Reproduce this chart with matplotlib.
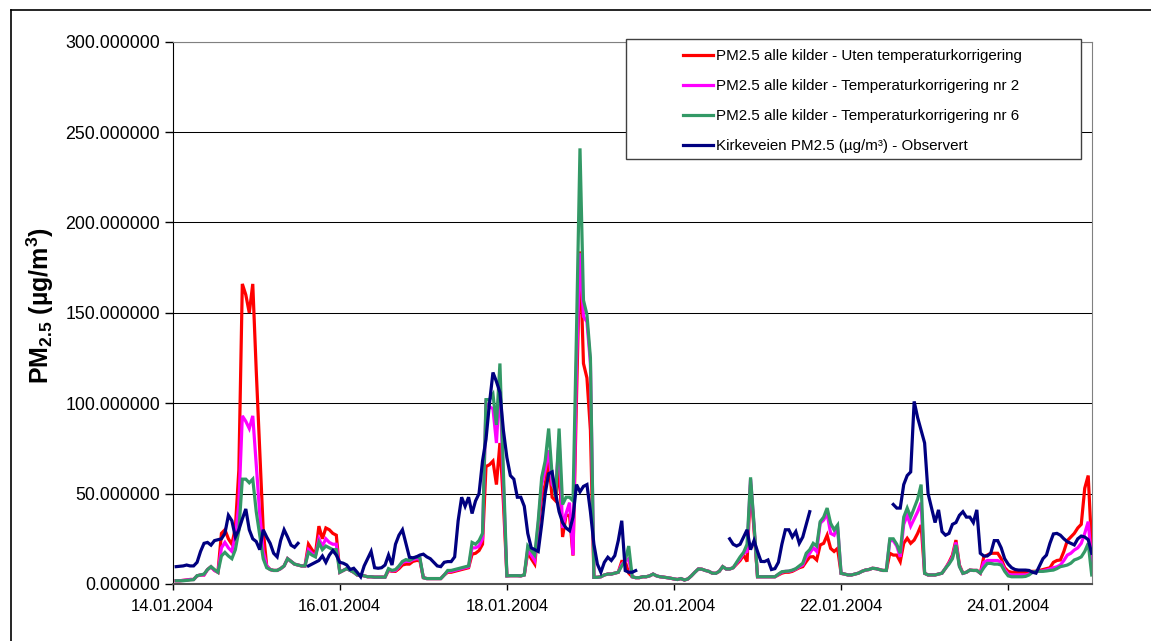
import numpy as np
import pandas as pd
import matplotlib
matplotlib.use("Agg")
import matplotlib.pyplot as plt
import matplotlib.dates as mdates
from matplotlib.patches import Rectangle
from matplotlib.lines import Line2D

nan = np.nan

# hourly values, 14.01.2004 01:00 .. 25.01.2004 00:00 (24 values per row = one day)
red = [
    1.8, 1.8, 2.0, 2.2, 2.5, 2.5, 4.5, 5.0, 5.0, 8.0, 9.5, 7.5, 6.5, 28, 30, 25, 22, 31, 63, 166, 160, 150, 166, 118,
    74, 30, 10, 8, 7.5, 7.5, 8.5, 10, 14, 12.5, 11, 10.5, 10, 10, 22, 19, 16.5, 32, 25, 31, 30, 28, 27, 6.5,
    7.5, 8.5, 7.5, 6.5, 5, 5, 4.5, 4, 4, 3.8, 3.8, 3.8, 3.8, 7.5, 7, 7, 8.5, 10.5, 11, 11, 12.5, 13, 13, 3.5,
    3, 3, 3, 3, 3, 5, 6.5, 6.5, 7, 7.5, 8, 8.5, 9, 16.5, 17, 18.5, 22, 65, 66, 68, 55, 78, 45, 4.5,
    4.6, 4.6, 4.6, 4.5, 5, 17.5, 14, 11, 30, 48, 55, 68, 48, 46, 66, 26, 38, 38, 15.7, 103, 184, 122, 114, 85,
    3.7, 3.7, 4, 5, 5.5, 5.5, 6, 6.5, 12.5, 12.5, 6, 4, 3.5, 3.5, 4, 4, 4.5, 5.5, 4.5, 4, 3.8, 3.5, 3.2, 2.8,
    2.5, 3, 2.2, 2.8, 4.5, 6.5, 8.3, 8.2, 7.5, 7, 6, 5.9, 7, 9.6, 8.3, 8.3, 9, 11, 13, 16, 12.4, 55, 30, 4,
    4, 4, 4, 4, 4, 5, 6, 6.5, 6.5, 7, 8, 9, 9.6, 12.4, 15, 15.1, 13.3, 21.6, 22.5, 27, 19.7, 18, 19.7, 5.9,
    5.5, 5, 5, 5.5, 6, 7, 7.7, 8, 8.7, 8.5, 8, 7.5, 7.5, 17, 16, 16, 12.4, 22.5, 25.3, 22.5, 24.3, 28, 32.6, 5.9,
    5, 5, 5, 5.5, 6, 8.7, 12, 16, 24.3, 10.5, 6, 6.5, 7.7, 7.5, 7.5, 6, 15, 16, 17, 17, 17, 14, 9, 7,
    6.5, 6.5, 6.5, 6.5, 6.5, 6.8, 7, 7, 7.5, 8, 8.5, 9, 12, 13, 13.3, 18, 24, 26, 28, 31, 33, 53, 60, 20,
]

magenta = [
    1.8, 1.8, 2.0, 2.2, 2.5, 2.5, 4.5, 5.0, 5.0, 8.0, 9.5, 7.5, 6.5, 20, 23, 20, 18, 27, 44, 93, 90, 86, 93, 66,
    39, 18, 10, 8, 7.5, 7.5, 8.5, 10, 14, 12.5, 11, 10.5, 10, 10, 19, 17, 15.5, 25, 21, 25, 23, 22, 22, 6.5,
    7.5, 8.5, 7.5, 6.5, 5, 5, 4.5, 4, 4, 3.8, 3.8, 3.8, 3.8, 8, 7.2, 7.5, 9.5, 12, 12.5, 12.5, 13.5, 14, 14, 3.5,
    3, 3, 3, 3, 3, 5, 7, 7, 7.5, 8, 8.5, 9, 9.5, 20, 20, 21, 25, 100, 98, 97, 78, 112, 55, 4.5,
    4.6, 4.6, 4.6, 4.5, 5, 19, 16, 13, 33, 55, 63, 74, 55, 52, 80, 31, 39, 45, 16, 122, 183, 148, 145, 122,
    3.7, 3.7, 4, 5, 5.5, 5.5, 6, 6.5, 11, 12.5, 14, 4, 3.5, 3.5, 4, 4, 4.5, 5.5, 4.5, 4, 3.8, 3.5, 3.2, 2.8,
    2.5, 3, 2.2, 2.8, 4.5, 6.5, 8.3, 8.2, 7.5, 7, 6, 5.9, 7, 9.6, 8.3, 8.3, 9, 11.5, 14, 17, 18, 58, 32, 4,
    4, 4, 4, 4, 4, 5.3, 6.5, 7, 7, 7.5, 8.3, 9.5, 10.5, 15, 17, 20, 18, 33.6, 35.4, 39, 28, 27, 31.7, 5.9,
    5.5, 5, 5, 5.5, 6, 7, 7.7, 8, 8.7, 8.5, 8, 7.5, 7.5, 24, 24, 21, 15, 33, 38, 32, 36, 40, 45, 5.9,
    5, 5, 5, 5.5, 6, 8.7, 11.5, 15, 23, 10, 5.9, 6.5, 7.7, 7.5, 7.5, 6, 12, 13, 13, 13, 13, 12, 8, 5.5,
    5, 5, 5, 5, 5, 5.5, 6.5, 7, 7, 7.3, 7.8, 8.3, 9, 9.5, 10.5, 13, 16, 17, 18.8, 20, 22.5, 28, 34.5, 12,
]

green = [
    1.8, 1.8, 1.8, 2.0, 2.2, 2.4, 4.6, 5.0, 5.5, 8.0, 9.6, 8.0, 6.5, 15.5, 17.5, 15.5, 14, 19, 29.5, 58, 58, 56, 58, 40,
    27, 14, 9, 8, 7.5, 7.5, 8.5, 10, 14, 12.5, 11, 10.5, 10, 10, 17.5, 16, 15, 23, 19, 21, 20, 19, 19, 6.5,
    7.5, 8.5, 7.5, 6.5, 5, 5, 4.5, 4, 4, 3.8, 3.8, 3.8, 3.8, 8.5, 7.5, 8, 10, 12.5, 13.5, 13, 14, 15, 14.5, 3.5,
    3, 3, 3, 3, 3, 5, 7.5, 7.5, 8, 8.5, 9, 9.5, 10, 23, 22, 24, 28, 102, 102, 105, 88, 122, 62, 4.5,
    4.6, 4.6, 4.6, 4.5, 5, 21, 18.5, 16, 35, 59, 68, 86, 60, 48, 86, 44, 48, 48, 46, 140, 241, 157, 149, 125,
    3.7, 3.7, 4, 5, 5.5, 5.5, 6, 6.5, 10, 13, 21, 4, 3.5, 3.5, 4, 4, 4.5, 5.5, 4.5, 4, 3.8, 3.5, 3.2, 2.8,
    2.5, 3, 2.2, 2.8, 4.5, 6.5, 8.3, 8.2, 7.5, 7, 6, 5.9, 7, 9.6, 8.3, 8.3, 9, 12, 15, 17.5, 22, 59, 33, 4,
    4, 4, 4, 4, 4, 5.5, 6.8, 7, 7.2, 7.7, 8.5, 10, 11.5, 17, 19, 22.5, 21, 34.5, 37, 42, 33.6, 30, 32.6, 5.9,
    5.5, 5, 5, 5.5, 6, 7, 7.7, 8, 8.7, 8.5, 8, 7.5, 7.5, 25, 25, 22, 17, 37, 42, 37, 42, 47, 55, 5.9,
    5, 5, 5, 5.5, 6, 8.7, 11, 14, 21.6, 9.6, 5.9, 6.5, 7.7, 7.5, 7.5, 6, 9, 11.4, 11.4, 11, 11, 10.5, 7, 4.5,
    4, 4, 4, 4, 4.2, 5, 6.5, 7, 7, 7, 7.2, 7.5, 7.7, 8.5, 9.6, 10, 10.5, 11.5, 13.3, 14, 15, 18, 22.5, 5,
]

observed = [
    9.6, 9.8, 10, 10.5, 10, 10, 12, 18, 22.5, 23, 21.5, 24, 24.5, 25, 28, 38, 35, 26, 30, 36, 41.5, 30, 25, 23.5,
    19, 30, 26, 22.5, 17, 15, 24, 30, 26, 21.5, 20.3, 22.5, nan, nan, 10, 11, 12, 13, 15.5, 12, 16, 18.5, 16, 12,
    11.5, 10.5, 8, 8.7, 6.5, 4, 10, 14, 18, 9, 8.7, 9, 10.5, 16, 10.5, 22, 27, 30, 22.5, 14.8, 14.5, 15, 16, 16.5,
    15, 14, 12, 10, 9.6, 12, 12.4, 12.4, 15, 35, 48, 43, 48, 39, 46, 50, 68, 80, 100, 117, 112, 106, 85, 70,
    60, 58, 48, 48, 43, 28, 20, 19, 18, 33, 50, 61, 62, 50, 40, 34, 31, 29.5, 37, 55, 51, 54, 55, 40,
    22, 11, 6.5, 12, 14.8, 13, 15.7, 24, 35, 7.4, 6.5, 6.5, 7.4, nan, nan, nan, nan, nan, nan, nan, nan, nan, nan, nan,
    nan, nan, nan, nan, nan, nan, nan, nan, nan, nan, nan, nan, nan, nan, nan, 25, 22, 21, 22, 26, 30, 19, 24, 18,
    12.5, 12.4, 13.3, 8, 8.5, 12, 22, 30, 30, 26, 29, 22.5, 26, 33, 40, nan, nan, nan, nan, nan, nan, nan, nan, nan,
    nan, nan, nan, nan, nan, nan, nan, nan, nan, nan, nan, nan, nan, nan, 44, 42, 42, 55, 60, 62, 101, 92, 85, 78,
    50, 42, 34, 41, 29, 27, 28, 33, 34, 38, 40, 37, 37, 34, 41, 17, 15.5, 15.5, 17, 24, 24, 20, 14, 11,
    9, 8, 7.7, 7.7, 7.7, 7.5, 6.5, 6, 10, 14, 16, 22.5, 27.7, 28, 27, 25, 23.4, 22.5, 21.6, 25, 26.5, 26, 24.5, 17,
]

labels = [
    "PM2.5 alle kilder - Uten temperaturkorrigering",
    "PM2.5 alle kilder - Temperaturkorrigering nr 2",
    "PM2.5 alle kilder - Temperaturkorrigering nr 6",
    "Kirkeveien PM2.5 (µg/m³) - Observert",
]
colors = ["#ff0000", "#ff00ff", "#339966", "#000080"]

times = pd.date_range("2004-01-14 01:00", periods=len(red), freq="h")

plt.rcParams["font.family"] = ["Liberation Sans", "DejaVu Sans"]
plt.rcParams["mathtext.fontset"] = "custom"
plt.rcParams["mathtext.rm"] = "Liberation Sans"
plt.rcParams["mathtext.bf"] = "Liberation Sans:bold"
plt.rcParams["mathtext.it"] = "Liberation Sans:italic"

W, H = 1151, 641
fig = plt.figure(figsize=(W / 100, H / 100), dpi=100)
ax = fig.add_axes([172.7 / W, 1 - 584 / H, (1091.7 - 172.7) / W, (584 - 41.7) / H])

lines = []
for series, c in zip([red, magenta, green, observed], colors):
    ln, = ax.plot(times, series, color=c, lw=2.3, solid_joinstyle="miter")
    lines.append(ln)

ax.set_xlim(pd.Timestamp("2004-01-14"), pd.Timestamp("2004-01-25"))
ax.set_ylim(0, 300)
ax.set_yticks(np.arange(0, 301, 50))
ax.yaxis.set_major_formatter(plt.FuncFormatter(lambda v, p: "%.6f" % v))
ax.xaxis.set_major_locator(mdates.DayLocator(bymonthday=[14, 16, 18, 20, 22, 24]))
ax.xaxis.set_major_formatter(mdates.DateFormatter("%d.%m.%Y"))
ax.tick_params(axis="y", length=6, width=1, pad=3, labelsize=12.8, direction="out")
ax.tick_params(axis="x", length=4, width=1, pad=7, labelsize=12, direction="out")
ax.yaxis.grid(True, color="black", lw=0.75)
ax.set_axisbelow(True)

ax.spines["left"].set_color("black")
ax.spines["bottom"].set_color("#505050")
ax.spines["bottom"].set_linewidth(1.5)
ax.spines["top"].set_color("#808080")
ax.spines["right"].set_color("#808080")

ax.set_ylabel(r"$\mathbf{PM_{2.5}\ (µg/m^3)}$", fontsize=18)
ax.yaxis.set_label_coords(-0.1275, 0.513)

# legend box
fig.add_artist(Rectangle((626 / W, 1 - 159 / H), 455 / W, 120 / H, transform=fig.transFigure,
                         facecolor="white", edgecolor="#404040", lw=1, zorder=4))
fig.legend(lines, labels, loc="upper left", bbox_to_anchor=(683 / W, 1 - 49 / H),
           frameon=False, borderpad=0, borderaxespad=0, fontsize=10.9,
           handlelength=2.0, handletextpad=0.2, labelspacing=1.06)

# outer frame
fig.add_artist(Line2D([11 / W, 1], [1 - 10 / H, 1 - 10 / H], transform=fig.transFigure, color="black", lw=1.2))
fig.add_artist(Line2D([11 / W, 11 / W], [0, 1 - 10 / H], transform=fig.transFigure, color="black", lw=1.2))

fig.savefig("out.png", dpi=100, facecolor="white")
